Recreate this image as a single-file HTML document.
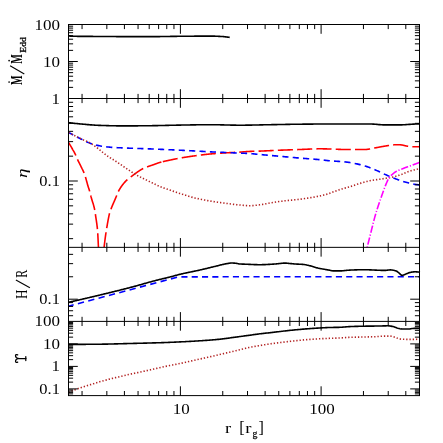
<!DOCTYPE html>
<html><head><meta charset="utf-8"><title>plot</title>
<style>html,body{margin:0;padding:0;background:#fff;width:443px;height:443px;overflow:hidden;font-family:"Liberation Serif",serif}svg{display:block}</style>
</head><body>
<svg width="443" height="443" viewBox="0 0 443 443" font-family="'Liberation Serif', serif" fill="#000">
<defs><clipPath id="c2"><rect x="68.5" y="98.5" width="351.0" height="148.85"/></clipPath></defs>
<rect width="443" height="443" fill="#fff"/>
<path d="M68.50 35.70L69.50 35.90L70.50 36.09L71.50 36.22L72.50 36.26L73.51 36.28L74.51 36.29L75.51 36.31L76.51 36.32L77.51 36.33L78.51 36.34L79.51 36.34L80.51 36.35L81.52 36.35L82.52 36.36L83.52 36.36L84.52 36.37L85.52 36.37L86.52 36.38L87.52 36.38L88.52 36.39L89.53 36.40L90.53 36.40L91.53 36.41L92.53 36.42L93.53 36.43L94.53 36.44L95.53 36.45L96.53 36.46L97.54 36.46L98.54 36.47L99.54 36.48L100.54 36.49L101.54 36.50L102.54 36.51L103.54 36.51L104.54 36.52L105.55 36.53L106.55 36.53L107.55 36.54L108.55 36.54L109.55 36.55L110.55 36.55L111.55 36.56L112.55 36.56L113.56 36.56L114.56 36.57L115.56 36.57L116.56 36.58L117.56 36.58L118.56 36.58L119.56 36.59L120.56 36.59L121.57 36.59L122.57 36.60L123.57 36.60L124.57 36.60L125.57 36.61L126.57 36.61L127.57 36.61L128.57 36.62L129.58 36.62L130.58 36.62L131.58 36.62L132.58 36.63L133.58 36.63L134.58 36.63L135.58 36.63L136.58 36.64L137.59 36.64L138.59 36.64L139.59 36.64L140.59 36.64L141.59 36.64L142.59 36.65L143.59 36.65L144.59 36.65L145.60 36.65L146.60 36.65L147.60 36.65L148.60 36.65L149.60 36.65L150.60 36.65L151.60 36.65L152.60 36.64L153.61 36.64L154.61 36.63L155.61 36.63L156.61 36.62L157.61 36.61L158.61 36.59L159.61 36.58L160.61 36.57L161.62 36.56L162.62 36.54L163.62 36.53L164.62 36.51L165.62 36.50L166.62 36.48L167.62 36.47L168.62 36.45L169.63 36.43L170.63 36.42L171.63 36.40L172.63 36.39L173.63 36.37L174.63 36.36L175.63 36.35L176.63 36.33L177.64 36.32L178.64 36.31L179.64 36.30L180.64 36.29L181.64 36.29L182.64 36.28L183.64 36.27L184.64 36.26L185.65 36.25L186.65 36.24L187.65 36.23L188.65 36.22L189.65 36.21L190.65 36.20L191.65 36.20L192.65 36.19L193.66 36.18L194.66 36.17L195.66 36.16L196.66 36.16L197.66 36.15L198.66 36.14L199.66 36.14L200.66 36.13L201.67 36.12L202.67 36.12L203.67 36.11L204.67 36.11L205.67 36.11L206.67 36.10L207.67 36.10L208.67 36.10L209.68 36.10L210.68 36.10L211.68 36.11L212.68 36.13L213.68 36.15L214.68 36.17L215.68 36.21L216.68 36.24L217.69 36.29L218.69 36.33L219.69 36.38L220.69 36.43L221.69 36.48L222.69 36.54L223.69 36.62L224.69 36.72L225.70 36.84L226.70 36.97L227.70 37.11L228.70 37.25L229.70 37.40" fill="none" stroke="#000" stroke-width="1.6" stroke-linejoin="round" stroke-linecap="butt"/>
<g clip-path="url(#c2)">
<path d="M68.50 122.60L69.50 122.73L70.50 122.85L71.50 122.98L72.51 123.10L73.51 123.22L74.51 123.33L75.51 123.45L76.51 123.56L77.51 123.66L78.51 123.77L79.52 123.87L80.52 123.96L81.52 124.06L82.52 124.15L83.52 124.24L84.52 124.32L85.52 124.41L86.53 124.50L87.53 124.59L88.53 124.67L89.53 124.76L90.53 124.84L91.53 124.92L92.53 124.99L93.54 125.06L94.54 125.13L95.54 125.19L96.54 125.25L97.54 125.30L98.54 125.35L99.54 125.38L100.55 125.42L101.55 125.45L102.55 125.48L103.55 125.51L104.55 125.54L105.55 125.57L106.55 125.60L107.56 125.63L108.56 125.66L109.56 125.68L110.56 125.71L111.56 125.73L112.56 125.75L113.56 125.77L114.57 125.79L115.57 125.81L116.57 125.83L117.57 125.84L118.57 125.86L119.57 125.87L120.57 125.88L121.58 125.89L122.58 125.89L123.58 125.90L124.58 125.90L125.58 125.90L126.58 125.90L127.58 125.90L128.59 125.89L129.59 125.89L130.59 125.89L131.59 125.88L132.59 125.87L133.59 125.87L134.59 125.86L135.60 125.85L136.60 125.84L137.60 125.83L138.60 125.82L139.60 125.82L140.60 125.80L141.60 125.79L142.61 125.78L143.61 125.77L144.61 125.76L145.61 125.75L146.61 125.74L147.61 125.73L148.61 125.72L149.62 125.70L150.62 125.69L151.62 125.68L152.62 125.67L153.62 125.65L154.62 125.63L155.62 125.62L156.63 125.60L157.63 125.58L158.63 125.56L159.63 125.54L160.63 125.52L161.63 125.49L162.63 125.47L163.64 125.45L164.64 125.43L165.64 125.40L166.64 125.38L167.64 125.36L168.64 125.33L169.64 125.31L170.65 125.29L171.65 125.26L172.65 125.24L173.65 125.22L174.65 125.20L175.65 125.18L176.65 125.16L177.66 125.14L178.66 125.12L179.66 125.11L180.66 125.09L181.66 125.07L182.66 125.06L183.66 125.04L184.67 125.02L185.67 125.00L186.67 124.98L187.67 124.97L188.67 124.95L189.67 124.93L190.67 124.91L191.68 124.90L192.68 124.88L193.68 124.86L194.68 124.85L195.68 124.83L196.68 124.81L197.68 124.80L198.69 124.79L199.69 124.77L200.69 124.76L201.69 124.75L202.69 124.74L203.69 124.73L204.69 124.72L205.70 124.71L206.70 124.71L207.70 124.70L208.70 124.70L209.70 124.70L210.70 124.70L211.70 124.70L212.71 124.71L213.71 124.72L214.71 124.73L215.71 124.75L216.71 124.76L217.71 124.78L218.71 124.80L219.72 124.82L220.72 124.85L221.72 124.87L222.72 124.89L223.72 124.92L224.72 124.94L225.72 124.97L226.73 124.99L227.73 125.02L228.73 125.04L229.73 125.06L230.73 125.09L231.73 125.11L232.73 125.13L233.74 125.14L234.74 125.16L235.74 125.17L236.74 125.18L237.74 125.19L238.74 125.20L239.74 125.20L240.75 125.20L241.75 125.20L242.75 125.19L243.75 125.19L244.75 125.18L245.75 125.17L246.75 125.16L247.75 125.14L248.76 125.13L249.76 125.11L250.76 125.09L251.76 125.08L252.76 125.06L253.76 125.04L254.76 125.02L255.77 125.00L256.77 124.97L257.77 124.95L258.77 124.93L259.77 124.91L260.77 124.89L261.77 124.86L262.78 124.84L263.78 124.82L264.78 124.80L265.78 124.78L266.78 124.76L267.78 124.74L268.78 124.72L269.79 124.70L270.79 124.69L271.79 124.67L272.79 124.65L273.79 124.63L274.79 124.62L275.79 124.60L276.80 124.58L277.80 124.56L278.80 124.54L279.80 124.52L280.80 124.50L281.80 124.48L282.80 124.46L283.81 124.45L284.81 124.43L285.81 124.41L286.81 124.39L287.81 124.37L288.81 124.36L289.81 124.34L290.82 124.32L291.82 124.31L292.82 124.29L293.82 124.28L294.82 124.26L295.82 124.25L296.82 124.23L297.83 124.22L298.83 124.21L299.83 124.20L300.83 124.19L301.83 124.18L302.83 124.17L303.83 124.16L304.84 124.15L305.84 124.14L306.84 124.13L307.84 124.13L308.84 124.12L309.84 124.11L310.84 124.10L311.85 124.09L312.85 124.08L313.85 124.07L314.85 124.07L315.85 124.06L316.85 124.05L317.85 124.04L318.86 124.04L319.86 124.03L320.86 124.03L321.86 124.02L322.86 124.02L323.86 124.01L324.86 124.01L325.87 124.01L326.87 124.00L327.87 124.00L328.87 124.00L329.87 124.00L330.87 124.00L331.87 124.00L332.88 124.00L333.88 124.00L334.88 124.00L335.88 124.00L336.88 124.00L337.88 124.00L338.88 124.00L339.89 124.00L340.89 124.00L341.89 124.00L342.89 124.00L343.89 124.00L344.89 124.00L345.89 124.00L346.90 124.00L347.90 124.00L348.90 124.00L349.90 124.00L350.90 124.00L351.90 124.00L352.90 124.00L353.91 124.00L354.91 124.00L355.91 124.00L356.91 124.00L357.91 124.00L358.91 124.00L359.91 124.00L360.92 124.00L361.92 124.00L362.92 124.00L363.92 124.00L364.92 124.00L365.92 124.00L366.92 124.00L367.93 124.00L368.93 124.00L369.93 124.00L370.93 124.01L371.93 124.04L372.93 124.09L373.93 124.15L374.94 124.23L375.94 124.31L376.94 124.40L377.94 124.49L378.94 124.58L379.94 124.66L380.94 124.74L381.95 124.80L382.95 124.85L383.95 124.89L384.95 124.90L385.95 124.90L386.95 124.90L387.95 124.90L388.96 124.90L389.96 124.90L390.96 124.90L391.96 124.90L392.96 124.90L393.96 124.90L394.96 124.90L395.97 124.90L396.97 124.90L397.97 124.90L398.97 124.90L399.97 124.90L400.97 124.89L401.97 124.86L402.98 124.82L403.98 124.77L404.98 124.70L405.98 124.63L406.98 124.56L407.98 124.48L408.98 124.40L409.99 124.33L410.99 124.26L411.99 124.20L412.99 124.15L413.99 124.10L414.99 124.04L415.99 123.99L417.00 123.94L418.00 123.90L419.00 123.85L420.00 123.80" fill="none" stroke="#000" stroke-width="1.6" stroke-linejoin="round" stroke-linecap="butt"/>
<path d="M68.50 142.30L68.65 142.55L68.80 142.80L68.95 143.05L69.10 143.30L69.25 143.56L69.40 143.81L69.55 144.06L69.70 144.32L69.85 144.58L70.00 144.83L70.16 145.09L70.31 145.35L70.46 145.61L70.61 145.87L70.76 146.13L70.91 146.39L71.06 146.65L71.21 146.91L71.36 147.17L71.51 147.44L71.66 147.70L71.81 147.97L71.96 148.23L72.11 148.50L72.26 148.76L72.41 149.02L72.56 149.29L72.71 149.55L72.86 149.81L73.02 150.07L73.17 150.33L73.32 150.59L73.47 150.85L73.62 151.11L73.77 151.38L73.92 151.65L74.07 151.92L74.22 152.19L74.37 152.47L74.52 152.75L74.67 153.04L74.82 153.33L74.97 153.62L75.12 153.92L75.27 154.23L75.42 154.54L75.57 154.86L75.72 155.19L75.87 155.55L76.03 155.91L76.18 156.29L76.33 156.67L76.48 157.05L76.63 157.43L76.78 157.80L76.93 158.17L77.08 158.52L77.23 158.86L77.38 159.20L77.53 159.52L77.68 159.84L77.83 160.16L77.98 160.47L78.13 160.78L78.28 161.08L78.43 161.38L78.58 161.68L78.73 161.98L78.88 162.28L79.03 162.57L79.19 162.87L79.34 163.16L79.49 163.46L79.64 163.76L79.79 164.06L79.94 164.36L80.09 164.66L80.24 164.96L80.39 165.27L80.54 165.58L80.69 165.89L80.84 166.20L80.99 166.50L81.14 166.80L81.29 167.10L81.44 167.40L81.59 167.69L81.74 167.99L81.89 168.29L82.05 168.59L82.20 168.89L82.35 169.19L82.50 169.49L82.65 169.80L82.80 170.12L82.95 170.43L83.10 170.76L83.25 171.09L83.40 171.42L83.55 171.76L83.70 172.12L83.85 172.47L84.00 172.84L84.15 173.22L84.30 173.61L84.45 174.01L84.60 174.43L84.75 174.86L84.90 175.32L85.05 175.78L85.21 176.26L85.36 176.75L85.51 177.25L85.66 177.76L85.81 178.28L85.96 178.80L86.11 179.34L86.26 179.87L86.41 180.41L86.56 180.95L86.71 181.49L86.86 182.03L87.01 182.57L87.16 183.11L87.31 183.64L87.46 184.17L87.61 184.70L87.76 185.21L87.91 185.72L88.06 186.21L88.22 186.70L88.37 187.18L88.52 187.65L88.67 188.12L88.82 188.59L88.97 189.06L89.12 189.53L89.27 190.01L89.42 190.50L89.57 190.99L89.72 191.51L89.87 192.03L90.02 192.58L90.17 193.16L90.32 193.77L90.47 194.41L90.62 195.05L90.77 195.68L90.92 196.30L91.07 196.89L91.23 197.46L91.38 198.00L91.53 198.53L91.68 199.04L91.83 199.54L91.98 200.03L92.13 200.51L92.28 200.99L92.43 201.46L92.58 201.93L92.73 202.40L92.88 202.88L93.03 203.36L93.18 203.85L93.33 204.35L93.48 204.87L93.63 205.40L93.78 205.95L93.93 206.52L94.08 207.11L94.24 207.72L94.39 208.37L94.54 209.04L94.69 209.74L94.84 210.48L94.99 211.29L95.14 212.26L95.29 213.35L95.44 214.46L95.59 215.54L95.74 216.56L95.89 217.56L96.04 218.54L96.19 219.51L96.34 220.50L96.49 221.51L96.64 222.56L96.79 223.67L96.94 224.84L97.09 226.09L97.25 227.45L97.40 228.91L97.55 230.50L97.70 232.46L97.85 235.04L98.00 237.97L98.15 241.13L98.30 244.29L98.45 247.24L98.60 250.00" fill="none" stroke="#ff0000" stroke-width="1.6" stroke-linejoin="round" stroke-linecap="butt" stroke-dasharray="15.1 4.2" stroke-dashoffset="0"/>
<path d="M103.80 250.00L104.05 247.64L104.30 245.44L104.55 243.32L104.80 241.27L105.05 239.29L105.30 237.38L105.55 235.55L105.80 233.80L106.05 232.12L106.30 230.51L106.55 228.97L106.80 227.51L107.05 226.05L107.30 224.61L107.55 223.18L107.80 221.77L108.05 220.39L108.30 219.06L108.55 217.78L108.80 216.55L109.05 215.40L109.30 214.32L109.55 213.34L109.80 212.44L110.05 211.64L110.30 210.91L110.55 210.23L110.80 209.57L111.05 208.92L111.30 208.26L111.55 207.62L111.81 207.00L112.06 206.38L112.31 205.78L112.56 205.18L112.81 204.59L113.06 204.01L113.31 203.44L113.56 202.87L113.81 202.30L114.06 201.73L114.31 201.16L114.56 200.59L114.81 200.02L115.06 199.44L115.31 198.85L115.56 198.26L115.81 197.66L116.06 197.05L116.31 196.43L116.56 195.79L116.81 195.09L117.06 194.37L117.31 193.67L117.56 193.03L117.81 192.48L118.06 192.00L118.31 191.52L118.56 191.06L118.81 190.61L119.06 190.16L119.31 189.73L119.56 189.30L119.81 188.88L120.06 188.48L120.31 188.08L120.56 187.69L120.81 187.30L121.06 186.93L121.31 186.56L121.56 186.20L121.81 185.85L122.06 185.50L122.31 185.17L122.56 184.84L122.81 184.51L123.06 184.19L123.31 183.88L123.56 183.58L123.81 183.28L124.06 182.99L124.31 182.70L124.56 182.41L124.81 182.14L125.06 181.86L125.31 181.60L125.56 181.33L125.81 181.07L126.06 180.82L126.31 180.57L126.56 180.32L126.81 180.08L127.06 179.84L127.31 179.61L127.57 179.40L127.82 179.20L128.07 179.00L128.32 178.81L128.57 178.63L128.82 178.44L129.07 178.25L129.32 178.06L129.57 177.86L129.82 177.67L130.07 177.48L130.32 177.29L130.57 177.09L130.82 176.90L131.07 176.71L131.32 176.52L131.57 176.33L131.82 176.14L132.07 175.95L132.32 175.75L132.57 175.56L132.82 175.38L133.07 175.19L133.32 175.00L133.57 174.81L133.82 174.62L134.07 174.44L134.32 174.25L134.57 174.07L134.82 173.88L135.07 173.70L135.32 173.52L135.57 173.33L135.82 173.15L136.07 172.97L136.32 172.80L136.57 172.62L136.82 172.44L137.07 172.27L137.32 172.09L137.57 171.92L137.82 171.75L138.07 171.58L138.32 171.41L138.57 171.25L138.82 171.08L139.07 170.92L139.32 170.76L139.57 170.60L139.82 170.44L140.07 170.28L140.32 170.12L140.57 169.97L140.82 169.82L141.07 169.66L141.32 169.51L141.57 169.37L141.82 169.22L142.07 169.08L142.32 168.94L142.57 168.81L142.82 168.68L143.07 168.56L143.32 168.44L143.58 168.33L143.83 168.21L144.08 168.10L144.33 168.00L144.58 167.89L144.83 167.78L145.08 167.68L145.33 167.58L145.58 167.48L145.83 167.38L146.08 167.28L146.33 167.18L146.58 167.09L146.83 166.99L147.08 166.90L147.33 166.81L147.58 166.72L147.83 166.63L148.08 166.54L148.33 166.45L148.58 166.36L148.83 166.28L149.08 166.19L149.33 166.10L149.58 166.02L149.83 165.93L150.08 165.85L150.33 165.76L150.58 165.68L150.83 165.59L151.08 165.51L151.33 165.42L151.58 165.34L151.83 165.25L152.08 165.17L152.33 165.08L152.58 165.00L152.83 164.91L153.08 164.82L153.33 164.74L153.58 164.65L153.83 164.56L154.08 164.47L154.33 164.38L154.58 164.29L154.83 164.20L155.08 164.10L155.33 164.01L155.58 163.92L155.83 163.82L156.08 163.73L156.33 163.64L156.58 163.55L156.83 163.45L157.08 163.36L157.33 163.27L157.58 163.18L157.83 163.09L158.08 163.01L158.33 162.92L158.58 162.84L158.83 162.76L159.08 162.67L159.34 162.60L159.59 162.52L159.84 162.45L160.09 162.38L160.34 162.31L160.59 162.24L160.84 162.17L161.09 162.10L161.34 162.04L161.59 161.97L161.84 161.91L162.09 161.85L162.34 161.78L162.59 161.72L162.84 161.66" fill="none" stroke="#ff0000" stroke-width="1.6" stroke-linejoin="round" stroke-linecap="butt" stroke-dasharray="15.1 4.2" stroke-dashoffset="-2.79"/>
<path d="M162.84 161.66L163.09 161.60L163.34 161.54L163.59 161.48L163.84 161.43L164.09 161.37L164.34 161.31L164.59 161.26L164.84 161.20L165.09 161.14L165.34 161.09L165.59 161.04L165.84 160.98L166.09 160.93L166.34 160.87L166.59 160.82L166.84 160.77L167.09 160.71L167.34 160.66L167.59 160.61L167.84 160.56L168.09 160.50L168.34 160.45L168.59 160.40L168.84 160.35L169.09 160.29L169.34 160.24L169.59 160.19L169.84 160.13L170.09 160.08L170.34 160.03L170.59 159.97L170.84 159.92L171.09 159.87L171.34 159.81L171.59 159.76L171.84 159.71L172.09 159.65L172.34 159.60L172.59 159.55L172.84 159.50L173.09 159.44L173.34 159.39L173.59 159.34L173.84 159.29L174.09 159.24L174.34 159.19L174.59 159.13L174.84 159.08L175.10 159.03L175.35 158.98L175.60 158.93L175.85 158.88L176.10 158.83L176.35 158.78L176.60 158.73L176.85 158.68L177.10 158.64L177.35 158.59L177.60 158.54L177.85 158.49L178.10 158.45L178.35 158.40L178.60 158.35L178.85 158.31L179.10 158.26L179.35 158.22L179.60 158.17L179.85 158.13L180.10 158.08L180.35 158.04L180.60 158.00L180.85 157.95L181.10 157.91L181.35 157.87L181.60 157.82L181.85 157.78L182.10 157.74L182.35 157.70L182.60 157.66L182.85 157.61L183.10 157.57L183.35 157.53L183.60 157.49L183.85 157.45L184.10 157.41L184.35 157.37L184.60 157.33L184.85 157.29L185.10 157.25L185.35 157.21L185.60 157.17L185.85 157.13L186.10 157.09L186.35 157.05L186.60 157.01L186.85 156.97L187.10 156.93L187.35 156.90L187.60 156.86L187.85 156.82L188.10 156.78L188.35 156.74L188.60 156.71L188.85 156.67L189.10 156.63L189.35 156.60L189.60 156.56L189.85 156.52L190.10 156.49L190.35 156.45L190.60 156.41L190.86 156.38L191.11 156.34L191.36 156.31L191.61 156.27L191.86 156.23L192.11 156.20L192.36 156.16L192.61 156.13L192.86 156.09L193.11 156.06L193.36 156.02L193.61 155.99L193.86 155.96L194.11 155.92L194.36 155.89L194.61 155.85L194.86 155.82L195.11 155.79L195.36 155.75L195.61 155.72L195.86 155.68L196.11 155.65L196.36 155.62L196.61 155.58L196.86 155.55L197.11 155.52L197.36 155.48L197.61 155.45L197.86 155.42L198.11 155.38L198.36 155.35L198.61 155.32L198.86 155.28L199.11 155.25L199.36 155.22L199.61 155.19L199.86 155.15L200.11 155.12L200.36 155.09L200.61 155.06L200.86 155.02L201.11 154.99L201.36 154.96L201.61 154.93L201.86 154.90L202.11 154.87L202.36 154.84L202.61 154.80L202.86 154.77L203.11 154.74L203.36 154.71L203.61 154.68L203.86 154.65L204.11 154.62L204.36 154.59L204.61 154.56L204.86 154.54L205.11 154.51L205.36 154.48L205.61 154.45L205.86 154.42L206.11 154.39L206.36 154.37L206.62 154.34L206.87 154.31L207.12 154.29L207.37 154.26L207.62 154.23L207.87 154.21L208.12 154.18L208.37 154.16L208.62 154.13L208.87 154.11L209.12 154.08L209.37 154.06L209.62 154.04L209.87 154.01L210.12 153.99L210.37 153.97L210.62 153.94L210.87 153.92L211.12 153.90L211.37 153.88L211.62 153.86L211.87 153.84L212.12 153.81L212.37 153.79L212.62 153.77L212.87 153.75L213.12 153.73L213.37 153.71L213.62 153.69L213.87 153.67L214.12 153.65L214.37 153.63L214.62 153.61L214.87 153.59L215.12 153.57L215.37 153.55L215.62 153.53L215.87 153.51L216.12 153.50L216.37 153.48L216.62 153.46L216.87 153.44L217.12 153.42L217.37 153.40L217.62 153.39L217.87 153.37L218.12 153.35L218.37 153.33L218.62 153.32L218.87 153.30L219.12 153.28L219.37 153.26L219.62 153.25L219.87 153.23L220.12 153.21L220.37 153.20L220.62 153.18L220.87 153.16L221.12 153.15L221.37 153.13L221.62 153.11L221.87 153.10L222.12 153.08L222.38 153.07L222.63 153.05L222.88 153.03L223.13 153.02L223.38 153.00L223.63 152.99L223.88 152.97L224.13 152.95L224.38 152.94L224.63 152.92L224.88 152.91L225.13 152.89L225.38 152.88L225.63 152.86L225.88 152.85L226.13 152.83L226.38 152.82L226.63 152.80L226.88 152.79L227.13 152.78L227.38 152.76L227.63 152.75L227.88 152.73L228.13 152.72L228.38 152.71L228.63 152.69L228.88 152.68L229.13 152.67L229.38 152.65L229.63 152.64L229.88 152.63L230.13 152.62L230.38 152.60L230.63 152.59L230.88 152.58L231.13 152.57L231.38 152.55L231.63 152.54L231.88 152.53L232.13 152.52L232.38 152.50L232.63 152.49L232.88 152.48L233.13 152.47L233.38 152.46L233.63 152.44L233.88 152.43L234.13 152.42L234.38 152.41L234.63 152.39L234.88 152.38L235.13 152.37L235.38 152.36L235.63 152.34L235.88 152.33L236.13 152.32L236.38 152.30L236.63 152.29L236.88 152.28L237.13 152.26L237.38 152.25L237.63 152.24L237.88 152.22L238.13 152.21L238.39 152.19L238.64 152.18L238.89 152.17L239.14 152.15L239.39 152.14L239.64 152.12L239.89 152.11L240.14 152.09L240.39 152.08L240.64 152.06L240.89 152.04L241.14 152.03L241.39 152.01L241.64 151.99L241.89 151.97L242.14 151.95L242.39 151.93L242.64 151.91L242.89 151.89L243.14 151.87L243.39 151.85L243.64 151.83L243.89 151.81L244.14 151.79L244.39 151.77L244.64 151.75L244.89 151.73L245.14 151.72L245.39 151.70L245.64 151.68L245.89 151.66L246.14 151.64L246.39 151.62L246.64 151.60L246.89 151.58L247.14 151.56L247.39 151.55L247.64 151.53L247.89 151.51L248.14 151.50L248.39 151.48L248.64 151.47L248.89 151.45L249.14 151.44L249.39 151.43L249.64 151.42L249.89 151.40L250.14 151.39L250.39 151.38L250.64 151.37L250.89 151.36L251.14 151.36L251.39 151.35L251.64 151.34L251.89 151.33L252.14 151.32L252.39 151.31L252.64 151.31L252.89 151.30L253.14 151.29L253.39 151.28L253.64 151.28L253.89 151.27L254.15 151.26L254.40 151.26L254.65 151.25L254.90 151.24L255.15 151.24L255.40 151.23L255.65 151.23L255.90 151.22L256.15 151.21L256.40 151.21L256.65 151.20L256.90 151.19L257.15 151.19L257.40 151.18L257.65 151.17L257.90 151.17L258.15 151.16L258.40 151.15L258.65 151.14L258.90 151.14L259.15 151.13L259.40 151.12L259.65 151.11L259.90 151.10L260.15 151.09L260.40 151.09L260.65 151.08L260.90 151.07L261.15 151.06L261.40 151.05L261.65 151.04L261.90 151.03L262.15 151.02L262.40 151.01L262.65 151.00L262.90 150.99L263.15 150.98L263.40 150.97L263.65 150.96L263.90 150.95L264.15 150.93L264.40 150.92L264.65 150.91L264.90 150.90L265.15 150.89L265.40 150.88L265.65 150.87L265.90 150.86L266.15 150.84L266.40 150.83L266.65 150.82L266.90 150.81L267.15 150.80L267.40 150.79L267.65 150.77L267.90 150.76L268.15 150.75L268.40 150.74L268.65 150.73L268.90 150.71L269.15 150.70L269.40 150.69L269.65 150.68L269.91 150.67L270.16 150.65L270.41 150.64L270.66 150.63L270.91 150.62L271.16 150.60L271.41 150.59L271.66 150.58L271.91 150.57L272.16 150.55L272.41 150.54L272.66 150.53L272.91 150.52L273.16 150.51L273.41 150.49L273.66 150.48L273.91 150.47L274.16 150.46L274.41 150.45L274.66 150.43L274.91 150.42L275.16 150.41L275.41 150.40L275.66 150.39L275.91 150.38L276.16 150.36L276.41 150.35L276.66 150.34L276.91 150.33L277.16 150.32L277.41 150.31L277.66 150.30L277.91 150.29L278.16 150.28L278.41 150.27L278.66 150.25L278.91 150.24L279.16 150.23L279.41 150.22L279.66 150.21L279.91 150.20L280.16 150.19L280.41 150.18L280.66 150.17L280.91 150.16L281.16 150.15L281.41 150.15L281.66 150.14L281.91 150.13L282.16 150.12L282.41 150.11L282.66 150.10L282.91 150.09L283.16 150.08L283.41 150.07L283.66 150.06L283.91 150.05L284.16 150.04L284.41 150.03L284.66 150.02L284.91 150.02L285.16 150.01L285.41 150.00L285.67 149.99L285.92 149.98L286.17 149.97L286.42 149.96L286.67 149.95L286.92 149.94L287.17 149.94L287.42 149.93L287.67 149.92L287.92 149.91L288.17 149.90L288.42 149.89L288.67 149.88L288.92 149.88L289.17 149.87L289.42 149.86L289.67 149.85L289.92 149.84L290.17 149.83L290.42 149.82L290.67 149.82L290.92 149.81L291.17 149.80L291.42 149.79L291.67 149.78L291.92 149.77L292.17 149.77L292.42 149.76L292.67 149.75L292.92 149.74L293.17 149.73L293.42 149.72L293.67 149.72L293.92 149.71L294.17 149.70L294.42 149.69L294.67 149.68L294.92 149.67L295.17 149.67L295.42 149.66L295.67 149.65L295.92 149.64L296.17 149.63L296.42 149.62L296.67 149.61L296.92 149.61L297.17 149.60L297.42 149.59L297.67 149.58L297.92 149.57L298.17 149.56L298.42 149.55L298.67 149.55L298.92 149.54L299.17 149.53L299.42 149.52L299.67 149.51L299.92 149.50L300.17 149.49L300.42 149.48L300.67 149.48L300.92 149.47L301.17 149.46L301.43 149.45L301.68 149.44L301.93 149.43L302.18 149.42L302.43 149.41L302.68 149.40L302.93 149.38L303.18 149.37L303.43 149.36L303.68 149.35L303.93 149.34L304.18 149.33L304.43 149.32L304.68 149.31L304.93 149.30L305.18 149.28L305.43 149.27L305.68 149.26L305.93 149.25L306.18 149.24L306.43 149.23L306.68 149.21L306.93 149.20L307.18 149.19L307.43 149.18L307.68 149.17L307.93 149.16L308.18 149.14L308.43 149.13L308.68 149.12L308.93 149.11L309.18 149.10L309.43 149.09L309.68 149.08L309.93 149.07L310.18 149.05L310.43 149.04L310.68 149.03L310.93 149.02L311.18 149.01L311.43 149.00L311.68 148.99L311.93 148.98L312.18 148.97L312.43 148.96L312.68 148.95L312.93 148.94L313.18 148.93L313.43 148.93L313.68 148.92L313.93 148.91L314.18 148.90L314.43 148.89L314.68 148.89L314.93 148.88L315.18 148.87L315.43 148.86L315.68 148.86L315.93 148.85L316.18 148.85L316.43 148.84L316.68 148.84L316.93 148.83L317.18 148.83L317.44 148.82L317.69 148.82L317.94 148.81L318.19 148.81L318.44 148.81L318.69 148.81L318.94 148.80L319.19 148.80L319.44 148.80L319.69 148.80L319.94 148.80L320.19 148.80L320.44 148.80L320.69 148.80L320.94 148.80L321.19 148.80L321.44 148.81L321.69 148.81L321.94 148.81L322.19 148.82L322.44 148.82L322.69 148.82L322.94 148.83L323.19 148.83L323.44 148.84L323.69 148.84L323.94 148.85L324.19 148.85L324.44 148.86L324.69 148.86L324.94 148.87L325.19 148.87L325.44 148.88L325.69 148.89L325.94 148.89L326.19 148.90L326.44 148.91L326.69 148.91L326.94 148.92L327.19 148.93L327.44 148.93L327.69 148.94L327.94 148.95L328.19 148.95L328.44 148.96L328.69 148.97L328.94 148.97L329.19 148.98L329.44 148.99L329.69 148.99L329.94 149.00L330.19 149.00L330.44 149.01L330.69 149.02L330.94 149.03L331.19 149.03L331.44 149.04L331.69 149.05L331.94 149.06L332.19 149.07L332.44 149.08L332.69 149.09L332.94 149.10L333.20 149.11L333.45 149.12L333.70 149.13L333.95 149.14L334.20 149.15L334.45 149.16L334.70 149.17L334.95 149.18L335.20 149.19L335.45 149.20L335.70 149.22L335.95 149.23L336.20 149.24L336.45 149.25L336.70 149.26L336.95 149.27L337.20 149.28L337.45 149.29L337.70 149.30L337.95 149.32L338.20 149.33L338.45 149.34L338.70 149.35L338.95 149.36L339.20 149.37L339.45 149.38L339.70 149.39L339.95 149.40L340.20 149.40L340.45 149.41L340.70 149.42L340.95 149.43L341.20 149.44L341.45 149.45L341.70 149.45L341.95 149.46L342.20 149.46L342.45 149.47L342.70 149.48L342.95 149.48L343.20 149.48L343.45 149.49L343.70 149.49L343.95 149.49L344.20 149.50L344.45 149.50L344.70 149.50L344.95 149.50L345.20 149.50L345.45 149.50L345.70 149.50L345.95 149.50L346.20 149.50L346.45 149.50L346.70 149.50L346.95 149.50L347.20 149.50L347.45 149.50L347.70 149.50L347.95 149.50L348.20 149.50L348.45 149.50L348.70 149.50L348.96 149.50L349.21 149.50L349.46 149.50L349.71 149.50L349.96 149.50L350.21 149.50L350.46 149.50L350.71 149.50L350.96 149.50L351.21 149.50L351.46 149.50L351.71 149.50L351.96 149.50L352.21 149.50L352.46 149.50L352.71 149.50L352.96 149.50L353.21 149.50L353.46 149.50L353.71 149.50L353.96 149.50L354.21 149.50L354.46 149.50L354.71 149.50L354.96 149.50L355.21 149.50L355.46 149.50L355.71 149.50L355.96 149.50L356.21 149.50L356.46 149.50L356.71 149.50L356.96 149.50L357.21 149.50L357.46 149.50L357.71 149.50L357.96 149.50L358.21 149.50L358.46 149.50L358.71 149.50L358.96 149.50L359.21 149.50L359.46 149.50L359.71 149.50L359.96 149.50L360.21 149.50L360.46 149.50L360.71 149.50L360.96 149.50L361.21 149.50L361.46 149.50L361.71 149.50L361.96 149.50L362.21 149.50L362.46 149.50L362.71 149.50L362.96 149.50L363.21 149.50L363.46 149.50L363.71 149.50L363.96 149.50L364.21 149.50L364.46 149.50L364.72 149.50L364.97 149.50L365.22 149.50L365.47 149.49L365.72 149.48L365.97 149.47L366.22 149.46L366.47 149.44L366.72 149.42L366.97 149.39L367.22 149.36L367.47 149.33L367.72 149.30L367.97 149.27L368.22 149.23L368.47 149.19L368.72 149.15L368.97 149.11L369.22 149.06L369.47 149.01L369.72 148.97L369.97 148.92L370.22 148.87L370.47 148.82L370.72 148.77L370.97 148.71L371.22 148.66L371.47 148.61L371.72 148.55L371.97 148.50L372.22 148.45L372.47 148.39L372.72 148.34L372.97 148.29L373.22 148.24L373.47 148.19L373.72 148.14L373.97 148.09L374.22 148.04L374.47 147.99L374.72 147.95L374.97 147.90L375.22 147.86L375.47 147.82L375.72 147.78L375.97 147.73L376.22 147.69L376.47 147.64L376.72 147.60L376.97 147.55L377.22 147.50L377.47 147.46L377.72 147.41L377.97 147.36L378.22 147.31L378.47 147.27L378.72 147.22L378.97 147.17L379.22 147.12L379.47 147.08L379.72 147.03L379.97 146.98L380.22 146.93L380.48 146.89L380.73 146.84L380.98 146.79L381.23 146.75L381.48 146.70L381.73 146.65L381.98 146.61L382.23 146.56L382.48 146.52L382.73 146.47L382.98 146.43L383.23 146.39L383.48 146.34L383.73 146.30L383.98 146.26L384.23 146.22L384.48 146.18L384.73 146.14L384.98 146.10L385.23 146.07L385.48 146.03L385.73 145.99L385.98 145.94L386.23 145.90L386.48 145.86L386.73 145.82L386.98 145.78L387.23 145.73L387.48 145.69L387.73 145.64L387.98 145.60L388.23 145.56L388.48 145.51L388.73 145.47L388.98 145.43L389.23 145.39L389.48 145.34L389.73 145.30L389.98 145.26L390.23 145.23L390.48 145.19L390.73 145.15L390.98 145.12L391.23 145.08L391.48 145.05L391.73 145.02L391.98 144.99L392.23 144.96L392.48 144.93L392.73 144.91L392.98 144.89L393.23 144.87L393.48 144.85L393.73 144.84L393.98 144.82L394.23 144.81L394.48 144.81L394.73 144.80L394.98 144.80L395.23 144.80L395.48 144.80L395.73 144.80L395.98 144.80L396.23 144.80L396.49 144.80L396.74 144.80L396.99 144.80L397.24 144.80L397.49 144.80L397.74 144.80L397.99 144.80L398.24 144.80L398.49 144.80L398.74 144.80L398.99 144.80L399.24 144.80L399.49 144.80L399.74 144.80L399.99 144.80L400.24 144.80L400.49 144.81L400.74 144.83L400.99 144.85L401.24 144.88L401.49 144.92L401.74 144.95L401.99 145.00L402.24 145.04L402.49 145.09L402.74 145.15L402.99 145.20L403.24 145.26L403.49 145.32L403.74 145.38L403.99 145.45L404.24 145.51L404.49 145.57L404.74 145.63L404.99 145.69L405.24 145.75L405.49 145.81L405.74 145.87L405.99 145.92L406.24 145.97L406.49 146.02L406.74 146.06L406.99 146.10L407.24 146.14L407.49 146.17L407.74 146.21L407.99 146.25L408.24 146.29L408.49 146.33L408.74 146.37L408.99 146.41L409.24 146.45L409.49 146.48L409.74 146.52L409.99 146.56L410.24 146.59L410.49 146.62L410.74 146.65L410.99 146.68L411.24 146.71L411.49 146.73L411.74 146.75L411.99 146.77L412.25 146.78L412.50 146.79L412.75 146.80L413.00 146.80L413.25 146.80L413.50 146.80L413.75 146.80L414.00 146.80L414.25 146.80L414.50 146.80L414.75 146.80L415.00 146.80L415.25 146.79L415.50 146.79L415.75 146.79L416.00 146.78L416.25 146.78L416.50 146.78L416.75 146.77L417.00 146.76L417.25 146.76L417.50 146.75L417.75 146.74L418.00 146.73L418.25 146.72L418.50 146.70L418.75 146.69L419.00 146.67L419.25 146.66L419.50 146.64L419.75 146.62L420.00 146.60" fill="none" stroke="#ff0000" stroke-width="1.6" stroke-linejoin="round" stroke-linecap="butt" stroke-dasharray="15.1 4.2" stroke-dashoffset="0"/>
<path d="M68.50 132.40L69.50 132.96L70.50 133.50L71.50 134.05L72.51 134.59L73.51 135.12L74.51 135.64L75.51 136.16L76.51 136.68L77.51 137.18L78.51 137.68L79.52 138.18L80.52 138.67L81.52 139.17L82.52 139.66L83.52 140.16L84.52 140.68L85.52 141.19L86.53 141.69L87.53 142.17L88.53 142.62L89.53 143.03L90.53 143.39L91.53 143.73L92.53 144.06L93.54 144.36L94.54 144.65L95.54 144.92L96.54 145.17L97.54 145.40L98.54 145.61L99.54 145.81L100.55 145.99L101.55 146.17L102.55 146.33L103.55 146.48L104.55 146.62L105.55 146.75L106.55 146.86L107.56 146.97L108.56 147.07L109.56 147.16L110.56 147.25L111.56 147.33L112.56 147.41L113.56 147.47L114.57 147.53L115.57 147.59L116.57 147.64L117.57 147.69L118.57 147.74L119.57 147.78L120.57 147.82L121.58 147.86L122.58 147.90L123.58 147.94L124.58 147.98L125.58 148.02L126.58 148.06L127.58 148.10L128.59 148.14L129.59 148.18L130.59 148.21L131.59 148.25L132.59 148.29L133.59 148.32L134.59 148.36L135.60 148.39L136.60 148.42L137.60 148.46L138.60 148.49L139.60 148.53L140.60 148.56L141.60 148.59L142.61 148.63L143.61 148.66L144.61 148.70L145.61 148.74L146.61 148.77L147.61 148.81L148.61 148.85L149.62 148.88L150.62 148.92L151.62 148.96L152.62 149.00L153.62 149.04L154.62 149.08L155.62 149.12L156.63 149.17L157.63 149.21L158.63 149.25L159.63 149.29L160.63 149.33L161.63 149.37L162.63 149.42L163.64 149.46L164.64 149.50L165.64 149.55L166.64 149.59L167.64 149.63L168.64 149.68L169.64 149.72L170.65 149.77L171.65 149.81L172.65 149.86L173.65 149.90L174.65 149.95L175.65 150.00L176.65 150.04L177.66 150.09L178.66 150.14L179.66 150.18L180.66 150.23L181.66 150.28L182.66 150.33L183.66 150.38L184.67 150.43L185.67 150.49L186.67 150.54L187.67 150.59L188.67 150.65L189.67 150.70L190.67 150.76L191.68 150.81L192.68 150.87L193.68 150.92L194.68 150.98L195.68 151.04L196.68 151.09L197.68 151.15L198.69 151.20L199.69 151.26L200.69 151.32L201.69 151.37L202.69 151.42L203.69 151.48L204.69 151.53L205.70 151.58L206.70 151.64L207.70 151.69L208.70 151.74L209.70 151.79L210.70 151.83L211.70 151.88L212.71 151.93L213.71 151.97L214.71 152.02L215.71 152.06L216.71 152.11L217.71 152.15L218.71 152.20L219.72 152.24L220.72 152.28L221.72 152.32L222.72 152.37L223.72 152.41L224.72 152.45L225.72 152.50L226.73 152.54L227.73 152.58L228.73 152.62L229.73 152.67L230.73 152.71L231.73 152.75L232.73 152.80L233.74 152.84L234.74 152.89L235.74 152.93L236.74 152.98L237.74 153.02L238.74 153.06L239.74 153.10L240.75 153.14L241.75 153.19L242.75 153.23L243.75 153.27L244.75 153.32L245.75 153.37L246.75 153.42L247.75 153.47L248.76 153.52L249.76 153.58L250.76 153.65L251.76 153.73L252.76 153.81L253.76 153.90L254.76 153.99L255.77 154.09L256.77 154.19L257.77 154.29L258.77 154.39L259.77 154.48L260.77 154.57L261.77 154.66L262.78 154.75L263.78 154.84L264.78 154.93L265.78 155.02L266.78 155.11L267.78 155.20L268.78 155.29L269.79 155.38L270.79 155.47L271.79 155.56L272.79 155.65L273.79 155.74L274.79 155.83L275.79 155.92L276.80 156.01L277.80 156.10L278.80 156.19L279.80 156.28L280.80 156.37L281.80 156.46L282.80 156.55L283.81 156.65L284.81 156.74L285.81 156.83L286.81 156.92L287.81 157.01L288.81 157.10L289.81 157.20L290.82 157.29L291.82 157.38L292.82 157.47L293.82 157.56L294.82 157.65L295.82 157.74L296.82 157.83L297.83 157.91L298.83 158.00L299.83 158.09L300.83 158.17L301.83 158.25L302.83 158.33L303.83 158.41L304.84 158.49L305.84 158.56L306.84 158.64L307.84 158.71L308.84 158.79L309.84 158.86L310.84 158.94L311.85 159.02L312.85 159.09L313.85 159.17L314.85 159.25L315.85 159.33L316.85 159.42L317.85 159.50L318.86 159.59L319.86 159.69L320.86 159.78L321.86 159.89L322.86 160.00L323.86 160.12L324.86 160.24L325.87 160.36L326.87 160.48L327.87 160.59L328.87 160.69L329.87 160.79L330.87 160.87L331.87 160.95L332.88 161.03L333.88 161.10L334.88 161.16L335.88 161.22L336.88 161.29L337.88 161.35L338.88 161.41L339.89 161.48L340.89 161.55L341.89 161.62L342.89 161.70L343.89 161.79L344.89 161.89L345.89 162.00L346.90 162.12L347.90 162.26L348.90 162.41L349.90 162.57L350.90 162.74L351.90 162.92L352.90 163.10L353.91 163.29L354.91 163.48L355.91 163.68L356.91 163.89L357.91 164.12L358.91 164.35L359.91 164.60L360.92 164.85L361.92 165.12L362.92 165.39L363.92 165.68L364.92 165.98L365.92 166.29L366.92 166.62L367.93 166.98L368.93 167.34L369.93 167.73L370.93 168.12L371.93 168.53L372.93 168.94L373.93 169.36L374.94 169.77L375.94 170.20L376.94 170.64L377.94 171.10L378.94 171.57L379.94 172.04L380.94 172.52L381.95 173.00L382.95 173.47L383.95 173.93L384.95 174.38L385.95 174.82L386.95 175.26L387.95 175.70L388.96 176.13L389.96 176.56L390.96 176.98L391.96 177.40L392.96 177.81L393.96 178.20L394.96 178.59L395.97 178.96L396.97 179.33L397.97 179.70L398.97 180.05L399.97 180.40L400.97 180.74L401.97 181.07L402.98 181.39L403.98 181.70L404.98 181.99L405.98 182.28L406.98 182.56L407.98 182.84L408.98 183.10L409.99 183.35L410.99 183.59L411.99 183.80L412.99 184.00L413.99 184.18L414.99 184.34L415.99 184.50L417.00 184.65L418.00 184.78L419.00 184.90L420.00 185.00" fill="none" stroke="#0000ff" stroke-width="1.6" stroke-linejoin="round" stroke-linecap="butt" stroke-dasharray="6.15 4.23" stroke-dashoffset="-9.575"/>
<path d="M68.50 132.30L69.50 132.86L70.50 133.40L71.50 133.95L72.51 134.49L73.51 135.02L74.51 135.54L75.51 136.06L76.51 136.58L77.51 137.09L78.51 137.60L79.52 138.10L80.52 138.59L81.52 139.07L82.52 139.54L83.52 139.99L84.52 140.41L85.52 140.83L86.53 141.25L87.53 141.69L88.53 142.15L89.53 142.65L90.53 143.20L91.53 143.80L92.53 144.46L93.54 145.15L94.54 145.87L95.54 146.61L96.54 147.36L97.54 148.11L98.54 148.90L99.54 149.73L100.55 150.57L101.55 151.42L102.55 152.25L103.55 153.05L104.55 153.82L105.55 154.57L106.55 155.31L107.56 156.03L108.56 156.73L109.56 157.41L110.56 158.05L111.56 158.65L112.56 159.24L113.56 159.83L114.57 160.46L115.57 161.10L116.57 161.76L117.57 162.43L118.57 163.11L119.57 163.80L120.57 164.48L121.58 165.17L122.58 165.86L123.58 166.54L124.58 167.22L125.58 167.89L126.58 168.57L127.58 169.26L128.59 169.95L129.59 170.64L130.59 171.32L131.59 172.00L132.59 172.65L133.59 173.29L134.59 173.90L135.60 174.49L136.60 175.05L137.60 175.60L138.60 176.13L139.60 176.65L140.60 177.16L141.60 177.66L142.61 178.16L143.61 178.66L144.61 179.15L145.61 179.66L146.61 180.15L147.61 180.64L148.61 181.13L149.62 181.61L150.62 182.10L151.62 182.59L152.62 183.08L153.62 183.57L154.62 184.06L155.62 184.54L156.63 185.01L157.63 185.48L158.63 185.92L159.63 186.35L160.63 186.75L161.63 187.14L162.63 187.52L163.64 187.89L164.64 188.24L165.64 188.60L166.64 188.94L167.64 189.29L168.64 189.63L169.64 189.98L170.65 190.33L171.65 190.68L172.65 191.02L173.65 191.37L174.65 191.72L175.65 192.06L176.65 192.40L177.66 192.73L178.66 193.06L179.66 193.39L180.66 193.71L181.66 194.03L182.66 194.36L183.66 194.68L184.67 195.00L185.67 195.32L186.67 195.64L187.67 195.95L188.67 196.26L189.67 196.56L190.67 196.85L191.68 197.13L192.68 197.41L193.68 197.67L194.68 197.92L195.68 198.16L196.68 198.39L197.68 198.62L198.69 198.84L199.69 199.06L200.69 199.27L201.69 199.47L202.69 199.67L203.69 199.87L204.69 200.06L205.70 200.24L206.70 200.42L207.70 200.60L208.70 200.78L209.70 200.95L210.70 201.12L211.70 201.28L212.71 201.44L213.71 201.60L214.71 201.76L215.71 201.91L216.71 202.05L217.71 202.20L218.71 202.34L219.72 202.48L220.72 202.62L221.72 202.76L222.72 202.90L223.72 203.03L224.72 203.16L225.72 203.30L226.73 203.43L227.73 203.56L228.73 203.70L229.73 203.83L230.73 203.96L231.73 204.09L232.73 204.21L233.74 204.34L234.74 204.46L235.74 204.57L236.74 204.68L237.74 204.79L238.74 204.89L239.74 204.98L240.75 205.07L241.75 205.16L242.75 205.26L243.75 205.35L244.75 205.44L245.75 205.52L246.75 205.59L247.75 205.64L248.76 205.68L249.76 205.70L250.76 205.69L251.76 205.66L252.76 205.60L253.76 205.52L254.76 205.42L255.77 205.32L256.77 205.20L257.77 205.08L258.77 204.95L259.77 204.83L260.77 204.70L261.77 204.55L262.78 204.38L263.78 204.20L264.78 204.01L265.78 203.81L266.78 203.61L267.78 203.41L268.78 203.22L269.79 203.04L270.79 202.87L271.79 202.70L272.79 202.52L273.79 202.36L274.79 202.19L275.79 202.03L276.80 201.87L277.80 201.71L278.80 201.57L279.80 201.43L280.80 201.30L281.80 201.17L282.80 201.05L283.81 200.93L284.81 200.82L285.81 200.72L286.81 200.61L287.81 200.51L288.81 200.41L289.81 200.31L290.82 200.21L291.82 200.11L292.82 200.01L293.82 199.91L294.82 199.80L295.82 199.69L296.82 199.58L297.83 199.47L298.83 199.35L299.83 199.22L300.83 199.09L301.83 198.96L302.83 198.82L303.83 198.69L304.84 198.54L305.84 198.40L306.84 198.25L307.84 198.10L308.84 197.94L309.84 197.78L310.84 197.62L311.85 197.45L312.85 197.28L313.85 197.11L314.85 196.93L315.85 196.74L316.85 196.55L317.85 196.35L318.86 196.15L319.86 195.94L320.86 195.72L321.86 195.49L322.86 195.25L323.86 195.00L324.86 194.74L325.87 194.46L326.87 194.16L327.87 193.84L328.87 193.50L329.87 193.15L330.87 192.79L331.87 192.43L332.88 192.06L333.88 191.70L334.88 191.34L335.88 190.98L336.88 190.61L337.88 190.24L338.88 189.88L339.89 189.54L340.89 189.22L341.89 188.93L342.89 188.65L343.89 188.37L344.89 188.11L345.89 187.84L346.90 187.58L347.90 187.31L348.90 187.02L349.90 186.73L350.90 186.42L351.90 186.10L352.90 185.76L353.91 185.42L354.91 185.07L355.91 184.73L356.91 184.39L357.91 184.06L358.91 183.73L359.91 183.43L360.92 183.13L361.92 182.83L362.92 182.53L363.92 182.23L364.92 181.94L365.92 181.66L366.92 181.40L367.93 181.15L368.93 180.92L369.93 180.71L370.93 180.53L371.93 180.36L372.93 180.20L373.93 180.05L374.94 179.91L375.94 179.77L376.94 179.64L377.94 179.50L378.94 179.36L379.94 179.21L380.94 179.06L381.95 178.91L382.95 178.76L383.95 178.61L384.95 178.46L385.95 178.31L386.95 178.15L387.95 177.98L388.96 177.80L389.96 177.61L390.96 177.40L391.96 177.19L392.96 176.96L393.96 176.72L394.96 176.46L395.97 176.19L396.97 175.92L397.97 175.62L398.97 175.32L399.97 175.01L400.97 174.66L401.97 174.28L402.98 173.86L403.98 173.43L404.98 173.00L405.98 172.59L406.98 172.21L407.98 171.84L408.98 171.48L409.99 171.13L410.99 170.79L411.99 170.48L412.99 170.20L413.99 169.94L414.99 169.70L415.99 169.46L417.00 169.25L418.00 169.04L419.00 168.86L420.00 168.70" fill="none" stroke="#b22222" stroke-width="1.6" stroke-linejoin="round" stroke-linecap="butt" stroke-dasharray="1.3 1.95" stroke-dashoffset="0"/>
<path d="M366.50 250.00L366.70 249.20L366.90 248.40L367.10 247.60L367.30 246.79L367.50 245.99L367.70 245.19L367.90 244.39L368.10 243.59L368.30 242.79L368.50 241.98L368.70 241.18L368.90 240.38L369.10 239.58L369.31 238.78L369.51 237.98L369.71 237.18L369.91 236.37L370.11 235.57L370.31 234.77L370.51 233.97L370.71 233.17L370.91 232.37L371.11 231.57L371.31 230.76L371.51 229.96L371.71 229.16L371.91 228.36L372.11 227.56L372.31 226.75L372.51 225.94L372.71 225.13L372.91 224.32L373.11 223.52L373.31 222.73L373.51 221.95L373.71 221.17L373.91 220.40L374.11 219.64L374.31 218.88L374.52 218.13L374.72 217.39L374.92 216.66L375.12 215.94L375.32 215.24L375.52 214.55L375.72 213.87L375.92 213.20L376.12 212.53L376.32 211.88L376.52 211.23L376.72 210.58L376.92 209.94L377.12 209.30L377.32 208.67L377.52 208.04L377.72 207.42L377.92 206.80L378.12 206.19L378.32 205.58L378.52 204.98L378.72 204.38L378.92 203.78L379.12 203.20L379.32 202.61L379.52 202.04L379.72 201.47L379.93 200.90L380.13 200.33L380.33 199.77L380.53 199.20L380.73 198.64L380.93 198.07L381.13 197.49L381.33 196.91L381.53 196.34L381.73 195.76L381.93 195.18L382.13 194.60L382.33 194.03L382.53 193.46L382.73 192.89L382.93 192.33L383.13 191.78L383.33 191.22L383.53 190.67L383.73 190.13L383.93 189.58L384.13 189.04L384.33 188.51L384.53 187.98L384.73 187.45L384.93 186.93L385.14 186.42L385.34 185.91L385.54 185.41L385.74 184.91L385.94 184.41L386.14 183.91L386.34 183.43L386.54 182.95L386.74 182.47L386.94 182.01L387.14 181.56L387.34 181.13L387.54 180.70L387.74 180.27L387.94 179.84L388.14 179.41L388.34 179.00L388.54 178.59L388.74 178.21L388.94 177.85L389.14 177.51L389.34 177.21L389.54 176.95L389.74 176.71L389.94 176.49L390.14 176.28L390.34 176.08L390.55 175.90L390.75 175.73L390.95 175.56L391.15 175.39L391.35 175.23L391.55 175.07L391.75 174.90L391.95 174.73L392.15 174.56L392.35 174.38L392.55 174.19L392.75 174.01L392.95 173.83L393.15 173.65L393.35 173.47L393.55 173.29L393.75 173.13L393.95 172.96L394.15 172.81L394.35 172.66L394.55 172.52L394.75 172.38L394.95 172.25L395.15 172.12L395.35 171.99L395.55 171.86L395.76 171.74L395.96 171.62L396.16 171.50L396.36 171.39L396.56 171.28L396.76 171.17L396.96 171.07L397.16 170.97L397.36 170.87L397.56 170.78L397.76 170.69L397.96 170.60L398.16 170.51L398.36 170.43L398.56 170.35L398.76 170.27L398.96 170.19L399.16 170.11L399.36 170.03L399.56 169.95L399.76 169.88L399.96 169.80L400.16 169.72L400.36 169.65L400.56 169.57L400.76 169.49L400.96 169.42L401.17 169.34L401.37 169.26L401.57 169.17L401.77 169.09L401.97 169.00L402.17 168.92L402.37 168.83L402.57 168.75L402.77 168.66L402.97 168.58L403.17 168.49L403.37 168.41L403.57 168.32L403.77 168.24L403.97 168.15L404.17 168.07L404.37 167.99L404.57 167.91L404.77 167.83L404.97 167.75L405.17 167.67L405.37 167.60L405.57 167.52L405.77 167.45L405.97 167.38L406.17 167.31L406.38 167.24L406.58 167.17L406.78 167.10L406.98 167.03L407.18 166.96L407.38 166.90L407.58 166.83L407.78 166.76L407.98 166.69L408.18 166.63L408.38 166.56L408.58 166.49L408.78 166.43L408.98 166.36L409.18 166.29L409.38 166.22L409.58 166.15L409.78 166.08L409.98 166.01L410.18 165.93L410.38 165.86L410.58 165.79L410.78 165.71L410.98 165.64L411.18 165.57L411.38 165.49L411.58 165.42L411.79 165.34L411.99 165.27L412.19 165.19L412.39 165.11L412.59 165.04L412.79 164.96L412.99 164.89L413.19 164.81L413.39 164.73L413.59 164.66L413.79 164.58L413.99 164.51L414.19 164.43L414.39 164.35L414.59 164.28L414.79 164.20L414.99 164.13L415.19 164.05L415.39 163.98L415.59 163.90L415.79 163.83L415.99 163.75L416.19 163.68L416.39 163.60L416.59 163.53L416.79 163.45L417.00 163.38L417.20 163.30L417.40 163.23L417.60 163.15L417.80 163.08L418.00 163.00L418.20 162.93L418.40 162.85L418.60 162.78L418.80 162.70L419.00 162.63L419.20 162.55L419.40 162.48L419.60 162.40" fill="none" stroke="#ff00ff" stroke-width="1.6" stroke-linejoin="round" stroke-linecap="butt" stroke-dasharray="7.4 1.8 1.2 1.8" stroke-dashoffset="-5.529"/>
</g>
<path d="M68.50 306.20L178.50 276.85" fill="none" stroke="#0000ff" stroke-width="1.6" stroke-linejoin="round" stroke-linecap="butt" stroke-dasharray="6.3 4.4" stroke-dashoffset="-9.729"/>
<path d="M178.50 276.85L419.50 276.70" fill="none" stroke="#0000ff" stroke-width="1.6" stroke-linejoin="round" stroke-linecap="butt" stroke-dasharray="6.1 4.2" stroke-dashoffset="-2.9"/>
<path d="M68.50 302.30L69.25 302.13L70.00 301.96L70.75 301.80L71.50 301.63L72.26 301.46L73.01 301.29L73.76 301.12L74.51 300.95L75.26 300.78L76.01 300.61L76.76 300.44L77.51 300.27L78.26 300.10L79.01 299.92L79.77 299.75L80.52 299.58L81.27 299.41L82.02 299.23L82.77 299.06L83.52 298.89L84.27 298.71L85.02 298.54L85.77 298.36L86.53 298.19L87.28 298.01L88.03 297.84L88.78 297.66L89.53 297.49L90.28 297.31L91.03 297.13L91.78 296.96L92.53 296.78L93.29 296.60L94.04 296.42L94.79 296.25L95.54 296.07L96.29 295.89L97.04 295.71L97.79 295.53L98.54 295.35L99.29 295.17L100.04 294.99L100.80 294.81L101.55 294.63L102.30 294.45L103.05 294.27L103.80 294.08L104.55 293.90L105.30 293.72L106.05 293.54L106.80 293.36L107.56 293.18L108.31 292.99L109.06 292.81L109.81 292.63L110.56 292.45L111.31 292.26L112.06 292.08L112.81 291.89L113.56 291.71L114.32 291.53L115.07 291.34L115.82 291.15L116.57 290.97L117.32 290.78L118.07 290.60L118.82 290.41L119.57 290.22L120.32 290.03L121.07 289.84L121.83 289.65L122.58 289.46L123.33 289.27L124.08 289.08L124.83 288.89L125.58 288.70L126.33 288.51L127.08 288.31L127.83 288.12L128.59 287.92L129.34 287.73L130.09 287.53L130.84 287.34L131.59 287.14L132.34 286.94L133.09 286.74L133.84 286.54L134.59 286.34L135.35 286.14L136.10 285.93L136.85 285.72L137.60 285.51L138.35 285.30L139.10 285.09L139.85 284.87L140.60 284.66L141.35 284.44L142.10 284.23L142.86 284.01L143.61 283.79L144.36 283.58L145.11 283.36L145.86 283.15L146.61 282.94L147.36 282.73L148.11 282.52L148.86 282.31L149.62 282.10L150.37 281.90L151.12 281.70L151.87 281.50L152.62 281.30L153.37 281.10L154.12 280.90L154.87 280.71L155.62 280.51L156.38 280.32L157.13 280.13L157.88 279.93L158.63 279.74L159.38 279.56L160.13 279.37L160.88 279.18L161.63 279.00L162.38 278.82L163.13 278.64L163.89 278.47L164.64 278.29L165.39 278.11L166.14 277.94L166.89 277.76L167.64 277.58L168.39 277.40L169.14 277.22L169.89 277.03L170.65 276.83L171.40 276.63L172.15 276.43L172.90 276.22L173.65 276.01L174.40 275.80L175.15 275.59L175.90 275.38L176.65 275.17L177.40 274.97L178.16 274.77L178.91 274.57L179.66 274.38L180.41 274.20L181.16 274.02L181.91 273.85L182.66 273.68L183.41 273.51L184.16 273.34L184.92 273.18L185.67 273.02L186.42 272.86L187.17 272.70L187.92 272.54L188.67 272.39L189.42 272.23L190.17 272.08L190.92 271.92L191.68 271.77L192.43 271.62L193.18 271.46L193.93 271.31L194.68 271.15L195.43 270.99L196.18 270.84L196.93 270.68L197.68 270.51L198.43 270.35L199.19 270.18L199.94 270.01L200.69 269.84L201.44 269.67L202.19 269.49L202.94 269.32L203.69 269.14L204.44 268.96L205.19 268.78L205.95 268.60L206.70 268.42L207.45 268.24L208.20 268.05L208.95 267.87L209.70 267.69L210.45 267.50L211.20 267.32L211.95 267.14L212.71 266.95L213.46 266.77L214.21 266.59L214.96 266.41L215.71 266.23L216.46 266.04L217.21 265.85L217.96 265.65L218.71 265.45L219.46 265.26L220.22 265.07L220.97 264.88L221.72 264.69L222.47 264.52L223.22 264.35L223.97 264.19L224.72 264.05L225.47 263.91L226.22 263.77L226.98 263.63L227.73 263.48L228.48 263.35L229.23 263.23L229.98 263.13L230.73 263.05L231.48 263.01L232.23 263.00L232.98 263.03L233.74 263.08L234.49 263.14L235.24 263.22L235.99 263.30L236.74 263.41L237.49 263.56L238.24 263.72L238.99 263.87L239.74 263.98L240.49 264.03L241.25 264.07L242.00 264.10L242.75 264.13L243.50 264.15L244.25 264.17L245.00 264.20L245.75 264.23L246.50 264.26L247.25 264.29L248.01 264.32L248.76 264.36L249.51 264.39L250.26 264.42L251.01 264.46L251.76 264.49L252.51 264.52L253.26 264.55L254.01 264.58L254.76 264.60L255.52 264.63L256.27 264.65L257.02 264.67L257.77 264.68L258.52 264.69L259.27 264.70L260.02 264.70L260.77 264.70L261.52 264.69L262.28 264.67L263.03 264.66L263.78 264.63L264.53 264.61L265.28 264.58L266.03 264.54L266.78 264.51L267.53 264.47L268.28 264.42L269.04 264.38L269.79 264.33L270.54 264.29L271.29 264.24L272.04 264.19L272.79 264.14L273.54 264.09L274.29 264.04L275.04 264.00L275.79 263.94L276.55 263.87L277.30 263.79L278.05 263.71L278.80 263.62L279.55 263.53L280.30 263.44L281.05 263.35L281.80 263.27L282.55 263.21L283.31 263.15L284.06 263.12L284.81 263.10L285.56 263.11L286.31 263.15L287.06 263.20L287.81 263.28L288.56 263.36L289.31 263.43L290.07 263.51L290.82 263.58L291.57 263.66L292.32 263.74L293.07 263.82L293.82 263.90L294.57 263.97L295.32 264.02L296.07 264.06L296.82 264.10L297.58 264.13L298.33 264.16L299.08 264.19L299.83 264.22L300.58 264.25L301.33 264.29L302.08 264.33L302.83 264.39L303.58 264.46L304.34 264.56L305.09 264.68L305.84 264.82L306.59 264.99L307.34 265.16L308.09 265.34L308.84 265.52L309.59 265.70L310.34 265.88L311.10 266.08L311.85 266.29L312.60 266.52L313.35 266.75L314.10 266.99L314.85 267.23L315.60 267.46L316.35 267.68L317.10 267.88L317.85 268.07L318.61 268.23L319.36 268.39L320.11 268.53L320.86 268.67L321.61 268.81L322.36 268.94L323.11 269.07L323.86 269.20L324.61 269.33L325.37 269.47L326.12 269.60L326.87 269.73L327.62 269.87L328.37 270.00L329.12 270.14L329.87 270.28L330.62 270.44L331.37 270.64L332.12 270.81L332.88 270.90L333.63 270.90L334.38 270.90L335.13 270.90L335.88 270.90L336.63 270.90L337.38 270.90L338.13 270.90L338.88 270.90L339.64 270.90L340.39 270.90L341.14 270.88L341.89 270.84L342.64 270.78L343.39 270.72L344.14 270.64L344.89 270.56L345.64 270.48L346.40 270.40L347.15 270.32L347.90 270.25L348.65 270.18L349.40 270.13L350.15 270.09L350.90 270.06L351.65 270.03L352.40 270.00L353.15 269.97L353.91 269.94L354.66 269.92L355.41 269.89L356.16 269.86L356.91 269.84L357.66 269.82L358.41 269.80L359.16 269.78L359.91 269.76L360.67 269.74L361.42 269.73L362.17 269.72L362.92 269.71L363.67 269.70L364.42 269.70L365.17 269.70L365.92 269.71L366.67 269.72L367.43 269.74L368.18 269.77L368.93 269.80L369.68 269.84L370.43 269.88L371.18 269.92L371.93 269.96L372.68 270.00L373.43 270.04L374.18 270.07L374.94 270.10L375.69 270.12L376.44 270.15L377.19 270.18L377.94 270.21L378.69 270.24L379.44 270.27L380.19 270.30L380.94 270.33L381.70 270.35L382.45 270.37L383.20 270.38L383.95 270.39L384.70 270.40L385.45 270.39L386.20 270.33L386.95 270.23L387.70 270.12L388.46 270.01L389.21 269.93L389.96 269.90L390.71 269.92L391.46 269.97L392.21 270.06L392.96 270.18L393.71 270.32L394.46 270.49L395.21 270.68L395.97 270.89L396.72 271.23L397.47 271.75L398.22 272.37L398.97 272.98L399.72 273.66L400.47 274.45L401.22 275.11L401.97 275.40L402.73 275.30L403.48 275.04L404.23 274.72L404.98 274.41L405.73 274.12L406.48 273.80L407.23 273.47L407.98 273.15L408.73 272.86L409.49 272.62L410.24 272.45L410.99 272.30L411.74 272.15L412.49 272.02L413.24 271.92L413.99 271.84L414.74 271.80L415.49 271.80L416.24 271.83L417.00 271.87L417.75 271.94L418.50 272.03L419.25 272.15L420.00 272.30" fill="none" stroke="#000" stroke-width="1.6" stroke-linejoin="round" stroke-linecap="butt"/>
<path d="M68.50 392.40L69.50 391.97L70.50 391.54L71.50 391.13L72.51 390.72L73.51 390.31L74.51 389.92L75.51 389.53L76.51 389.15L77.51 388.78L78.51 388.42L79.52 388.07L80.52 387.72L81.52 387.39L82.52 387.07L83.52 386.76L84.52 386.45L85.52 386.15L86.53 385.85L87.53 385.55L88.53 385.25L89.53 384.94L90.53 384.63L91.53 384.32L92.53 384.00L93.54 383.69L94.54 383.37L95.54 383.05L96.54 382.74L97.54 382.43L98.54 382.13L99.54 381.83L100.55 381.54L101.55 381.26L102.55 380.98L103.55 380.70L104.55 380.43L105.55 380.16L106.55 379.89L107.56 379.63L108.56 379.37L109.56 379.11L110.56 378.86L111.56 378.61L112.56 378.36L113.56 378.12L114.57 377.89L115.57 377.65L116.57 377.41L117.57 377.18L118.57 376.94L119.57 376.70L120.57 376.46L121.58 376.22L122.58 375.97L123.58 375.73L124.58 375.48L125.58 375.24L126.58 375.00L127.58 374.76L128.59 374.52L129.59 374.29L130.59 374.07L131.59 373.85L132.59 373.64L133.59 373.43L134.59 373.22L135.60 373.02L136.60 372.81L137.60 372.60L138.60 372.40L139.60 372.19L140.60 371.97L141.60 371.75L142.61 371.54L143.61 371.32L144.61 371.10L145.61 370.88L146.61 370.66L147.61 370.43L148.61 370.21L149.62 369.99L150.62 369.76L151.62 369.53L152.62 369.30L153.62 369.07L154.62 368.84L155.62 368.61L156.63 368.38L157.63 368.14L158.63 367.91L159.63 367.68L160.63 367.46L161.63 367.23L162.63 367.00L163.64 366.78L164.64 366.56L165.64 366.36L166.64 366.15L167.64 365.95L168.64 365.75L169.64 365.55L170.65 365.36L171.65 365.16L172.65 364.97L173.65 364.77L174.65 364.58L175.65 364.38L176.65 364.18L177.66 363.98L178.66 363.78L179.66 363.57L180.66 363.36L181.66 363.15L182.66 362.93L183.66 362.71L184.67 362.49L185.67 362.26L186.67 362.04L187.67 361.81L188.67 361.59L189.67 361.36L190.67 361.13L191.68 360.90L192.68 360.67L193.68 360.44L194.68 360.21L195.68 359.98L196.68 359.75L197.68 359.52L198.69 359.30L199.69 359.07L200.69 358.85L201.69 358.62L202.69 358.40L203.69 358.17L204.69 357.95L205.70 357.73L206.70 357.50L207.70 357.28L208.70 357.06L209.70 356.84L210.70 356.61L211.70 356.39L212.71 356.16L213.71 355.94L214.71 355.71L215.71 355.49L216.71 355.26L217.71 355.03L218.71 354.80L219.72 354.57L220.72 354.33L221.72 354.10L222.72 353.86L223.72 353.62L224.72 353.38L225.72 353.14L226.73 352.90L227.73 352.66L228.73 352.42L229.73 352.17L230.73 351.93L231.73 351.69L232.73 351.45L233.74 351.20L234.74 350.96L235.74 350.72L236.74 350.48L237.74 350.23L238.74 349.98L239.74 349.72L240.75 349.47L241.75 349.22L242.75 348.97L243.75 348.72L244.75 348.48L245.75 348.24L246.75 348.01L247.75 347.78L248.76 347.56L249.76 347.35L250.76 347.15L251.76 346.95L252.76 346.76L253.76 346.58L254.76 346.40L255.77 346.22L256.77 346.05L257.77 345.88L258.77 345.71L259.77 345.54L260.77 345.37L261.77 345.20L262.78 345.03L263.78 344.87L264.78 344.70L265.78 344.54L266.78 344.38L267.78 344.23L268.78 344.08L269.79 343.93L270.79 343.79L271.79 343.65L272.79 343.51L273.79 343.37L274.79 343.24L275.79 343.11L276.80 342.98L277.80 342.85L278.80 342.72L279.80 342.60L280.80 342.47L281.80 342.35L282.80 342.23L283.81 342.11L284.81 341.99L285.81 341.88L286.81 341.76L287.81 341.65L288.81 341.53L289.81 341.42L290.82 341.31L291.82 341.20L292.82 341.09L293.82 340.97L294.82 340.86L295.82 340.75L296.82 340.64L297.83 340.53L298.83 340.42L299.83 340.32L300.83 340.21L301.83 340.11L302.83 340.01L303.83 339.92L304.84 339.82L305.84 339.73L306.84 339.65L307.84 339.56L308.84 339.49L309.84 339.41L310.84 339.34L311.85 339.27L312.85 339.20L313.85 339.14L314.85 339.07L315.85 339.01L316.85 338.95L317.85 338.89L318.86 338.83L319.86 338.77L320.86 338.72L321.86 338.67L322.86 338.62L323.86 338.57L324.86 338.52L325.87 338.47L326.87 338.43L327.87 338.38L328.87 338.34L329.87 338.30L330.87 338.27L331.87 338.24L332.88 338.21L333.88 338.18L334.88 338.16L335.88 338.13L336.88 338.11L337.88 338.08L338.88 338.04L339.89 338.00L340.89 337.96L341.89 337.89L342.89 337.82L343.89 337.73L344.89 337.65L345.89 337.56L346.90 337.48L347.90 337.41L348.90 337.35L349.90 337.30L350.90 337.27L351.90 337.25L352.90 337.23L353.91 337.21L354.91 337.19L355.91 337.17L356.91 337.16L357.91 337.14L358.91 337.12L359.91 337.10L360.92 337.08L361.92 337.06L362.92 337.03L363.92 337.01L364.92 336.99L365.92 336.97L366.92 336.94L367.93 336.92L368.93 336.89L369.93 336.86L370.93 336.84L371.93 336.81L372.93 336.77L373.93 336.74L374.94 336.70L375.94 336.66L376.94 336.59L377.94 336.52L378.94 336.44L379.94 336.36L380.94 336.28L381.95 336.21L382.95 336.15L383.95 336.11L384.95 336.10L385.95 336.10L386.95 336.10L387.95 336.10L388.96 336.10L389.96 336.10L390.96 336.17L391.96 336.36L392.96 336.62L393.96 336.89L394.96 337.22L395.97 337.64L396.97 338.05L397.97 338.39L398.97 338.65L399.97 338.90L400.97 339.09L401.97 339.20L402.98 339.24L403.98 339.29L404.98 339.32L405.98 339.35L406.98 339.37L407.98 339.39L408.98 339.40L409.99 339.40L410.99 339.40L411.99 339.39L412.99 339.39L413.99 339.37L414.99 339.36L415.99 339.34L417.00 339.31L418.00 339.28L419.00 339.24L420.00 339.20" fill="none" stroke="#b22222" stroke-width="1.6" stroke-linejoin="round" stroke-linecap="butt" stroke-dasharray="1.3 1.95" stroke-dashoffset="0"/>
<path d="M68.50 344.40L69.50 344.40L70.50 344.40L71.50 344.40L72.51 344.40L73.51 344.39L74.51 344.39L75.51 344.39L76.51 344.38L77.51 344.38L78.51 344.37L79.52 344.37L80.52 344.36L81.52 344.36L82.52 344.35L83.52 344.34L84.52 344.34L85.52 344.33L86.53 344.32L87.53 344.31L88.53 344.31L89.53 344.30L90.53 344.29L91.53 344.28L92.53 344.27L93.54 344.26L94.54 344.25L95.54 344.24L96.54 344.23L97.54 344.22L98.54 344.21L99.54 344.20L100.55 344.19L101.55 344.18L102.55 344.17L103.55 344.15L104.55 344.14L105.55 344.12L106.55 344.10L107.56 344.08L108.56 344.06L109.56 344.04L110.56 344.02L111.56 343.99L112.56 343.97L113.56 343.94L114.57 343.92L115.57 343.89L116.57 343.86L117.57 343.84L118.57 343.81L119.57 343.78L120.57 343.75L121.58 343.73L122.58 343.70L123.58 343.67L124.58 343.64L125.58 343.62L126.58 343.59L127.58 343.56L128.59 343.54L129.59 343.51L130.59 343.49L131.59 343.46L132.59 343.44L133.59 343.41L134.59 343.39L135.60 343.36L136.60 343.34L137.60 343.31L138.60 343.29L139.60 343.26L140.60 343.24L141.60 343.21L142.61 343.19L143.61 343.16L144.61 343.14L145.61 343.11L146.61 343.09L147.61 343.06L148.61 343.03L149.62 343.01L150.62 342.98L151.62 342.95L152.62 342.92L153.62 342.89L154.62 342.87L155.62 342.84L156.63 342.81L157.63 342.78L158.63 342.74L159.63 342.71L160.63 342.68L161.63 342.65L162.63 342.61L163.64 342.58L164.64 342.54L165.64 342.50L166.64 342.47L167.64 342.43L168.64 342.39L169.64 342.35L170.65 342.31L171.65 342.27L172.65 342.23L173.65 342.18L174.65 342.14L175.65 342.10L176.65 342.05L177.66 342.01L178.66 341.96L179.66 341.92L180.66 341.87L181.66 341.82L182.66 341.77L183.66 341.73L184.67 341.68L185.67 341.63L186.67 341.57L187.67 341.52L188.67 341.47L189.67 341.42L190.67 341.36L191.68 341.30L192.68 341.25L193.68 341.19L194.68 341.13L195.68 341.07L196.68 341.01L197.68 340.95L198.69 340.88L199.69 340.82L200.69 340.75L201.69 340.69L202.69 340.62L203.69 340.55L204.69 340.48L205.70 340.41L206.70 340.34L207.70 340.27L208.70 340.19L209.70 340.11L210.70 340.03L211.70 339.95L212.71 339.87L213.71 339.79L214.71 339.70L215.71 339.61L216.71 339.52L217.71 339.42L218.71 339.33L219.72 339.23L220.72 339.13L221.72 339.01L222.72 338.90L223.72 338.77L224.72 338.64L225.72 338.51L226.73 338.37L227.73 338.23L228.73 338.09L229.73 337.94L230.73 337.80L231.73 337.65L232.73 337.51L233.74 337.37L234.74 337.24L235.74 337.10L236.74 336.97L237.74 336.84L238.74 336.70L239.74 336.57L240.75 336.44L241.75 336.31L242.75 336.17L243.75 336.04L244.75 335.91L245.75 335.77L246.75 335.64L247.75 335.50L248.76 335.37L249.76 335.23L250.76 335.09L251.76 334.95L252.76 334.81L253.76 334.66L254.76 334.52L255.77 334.37L256.77 334.23L257.77 334.09L258.77 333.96L259.77 333.83L260.77 333.71L261.77 333.59L262.78 333.48L263.78 333.37L264.78 333.26L265.78 333.15L266.78 333.05L267.78 332.94L268.78 332.83L269.79 332.72L270.79 332.61L271.79 332.50L272.79 332.38L273.79 332.26L274.79 332.14L275.79 332.03L276.80 331.91L277.80 331.79L278.80 331.67L279.80 331.55L280.80 331.43L281.80 331.31L282.80 331.19L283.81 331.07L284.81 330.96L285.81 330.85L286.81 330.74L287.81 330.63L288.81 330.52L289.81 330.42L290.82 330.32L291.82 330.22L292.82 330.12L293.82 330.02L294.82 329.92L295.82 329.82L296.82 329.72L297.83 329.62L298.83 329.53L299.83 329.43L300.83 329.34L301.83 329.25L302.83 329.16L303.83 329.08L304.84 328.99L305.84 328.91L306.84 328.83L307.84 328.75L308.84 328.68L309.84 328.61L310.84 328.54L311.85 328.47L312.85 328.41L313.85 328.34L314.85 328.27L315.85 328.21L316.85 328.14L317.85 328.08L318.86 328.02L319.86 327.96L320.86 327.90L321.86 327.84L322.86 327.79L323.86 327.74L324.86 327.69L325.87 327.65L326.87 327.61L327.87 327.57L328.87 327.53L329.87 327.50L330.87 327.48L331.87 327.46L332.88 327.44L333.88 327.42L334.88 327.41L335.88 327.39L336.88 327.37L337.88 327.35L338.88 327.33L339.89 327.30L340.89 327.26L341.89 327.21L342.89 327.14L343.89 327.06L344.89 326.97L345.89 326.89L346.90 326.80L347.90 326.72L348.90 326.66L349.90 326.60L350.90 326.56L351.90 326.52L352.90 326.49L353.91 326.45L354.91 326.42L355.91 326.39L356.91 326.36L357.91 326.33L358.91 326.30L359.91 326.28L360.92 326.25L361.92 326.23L362.92 326.21L363.92 326.20L364.92 326.18L365.92 326.17L366.92 326.15L367.93 326.14L368.93 326.13L369.93 326.12L370.93 326.11L371.93 326.10L372.93 326.09L373.93 326.08L374.94 326.07L375.94 326.06L376.94 326.04L377.94 326.03L378.94 326.02L379.94 326.00L380.94 325.98L381.95 325.95L382.95 325.92L383.95 325.88L384.95 325.85L385.95 325.83L386.95 325.81L387.95 325.80L388.96 325.85L389.96 325.97L390.96 326.16L391.96 326.37L392.96 326.59L393.96 326.85L394.96 327.19L395.97 327.55L396.97 327.90L397.97 328.19L398.97 328.45L399.97 328.72L400.97 328.92L401.97 329.00L402.98 329.00L403.98 329.00L404.98 329.00L405.98 329.00L406.98 329.00L407.98 329.00L408.98 328.96L409.99 328.85L410.99 328.70L411.99 328.56L412.99 328.45L413.99 328.40L414.99 328.40L415.99 328.40L417.00 328.40L418.00 328.40L419.00 328.40L420.00 328.40" fill="none" stroke="#000" stroke-width="1.6" stroke-linejoin="round" stroke-linecap="butt"/>
<rect x="68.5" y="24.5" width="351.0" height="371.1" fill="none" stroke="#000" stroke-width="1.0"/>
<line x1="68.5" y1="98.5" x2="419.5" y2="98.5" stroke="#000" stroke-width="1.0"/>
<line x1="68.5" y1="247.35" x2="419.5" y2="247.35" stroke="#000" stroke-width="1.0"/>
<line x1="68.5" y1="321.4" x2="419.5" y2="321.4" stroke="#000" stroke-width="1.0"/>
<path d="M82.05 24.50V29.10M106.83 24.50V29.10M124.41 24.50V29.10M138.05 24.50V29.10M149.19 24.50V29.10M158.61 24.50V29.10M166.76 24.50V29.10M173.96 24.50V29.10M180.40 24.50V33.80M222.75 24.50V29.10M247.53 24.50V29.10M265.11 24.50V29.10M278.75 24.50V29.10M289.89 24.50V29.10M299.31 24.50V29.10M307.46 24.50V29.10M314.66 24.50V29.10M321.10 24.50V33.80M363.45 24.50V29.10M388.23 24.50V29.10M405.81 24.50V29.10M82.05 93.90V103.10M106.83 93.90V103.10M124.41 93.90V103.10M138.05 93.90V103.10M149.19 93.90V103.10M158.61 93.90V103.10M166.76 93.90V103.10M173.96 93.90V103.10M180.40 89.20V107.80M222.75 93.90V103.10M247.53 93.90V103.10M265.11 93.90V103.10M278.75 93.90V103.10M289.89 93.90V103.10M299.31 93.90V103.10M307.46 93.90V103.10M314.66 93.90V103.10M321.10 89.20V107.80M363.45 93.90V103.10M388.23 93.90V103.10M405.81 93.90V103.10M82.05 242.75V251.95M106.83 242.75V251.95M124.41 242.75V251.95M138.05 242.75V251.95M149.19 242.75V251.95M158.61 242.75V251.95M166.76 242.75V251.95M173.96 242.75V251.95M180.40 238.05V256.65M222.75 242.75V251.95M247.53 242.75V251.95M265.11 242.75V251.95M278.75 242.75V251.95M289.89 242.75V251.95M299.31 242.75V251.95M307.46 242.75V251.95M314.66 242.75V251.95M321.10 238.05V256.65M363.45 242.75V251.95M388.23 242.75V251.95M405.81 242.75V251.95M82.05 316.80V326.00M106.83 316.80V326.00M124.41 316.80V326.00M138.05 316.80V326.00M149.19 316.80V326.00M158.61 316.80V326.00M166.76 316.80V326.00M173.96 316.80V326.00M180.40 312.10V330.70M222.75 316.80V326.00M247.53 316.80V326.00M265.11 316.80V326.00M278.75 316.80V326.00M289.89 316.80V326.00M299.31 316.80V326.00M307.46 316.80V326.00M314.66 316.80V326.00M321.10 312.10V330.70M363.45 316.80V326.00M388.23 316.80V326.00M405.81 316.80V326.00M82.05 391.00V395.60M106.83 391.00V395.60M124.41 391.00V395.60M138.05 391.00V395.60M149.19 391.00V395.60M158.61 391.00V395.60M166.76 391.00V395.60M173.96 391.00V395.60M180.40 386.30V395.60M222.75 391.00V395.60M247.53 391.00V395.60M265.11 391.00V395.60M278.75 391.00V395.60M289.89 391.00V395.60M299.31 391.00V395.60M307.46 391.00V395.60M314.66 391.00V395.60M321.10 386.30V395.60M363.45 391.00V395.60M388.23 391.00V395.60M405.81 391.00V395.60M68.50 87.36h4.6M419.50 87.36h-4.6M68.50 80.85h4.6M419.50 80.85h-4.6M68.50 76.22h4.6M419.50 76.22h-4.6M68.50 72.64h4.6M419.50 72.64h-4.6M68.50 69.71h4.6M419.50 69.71h-4.6M68.50 67.23h4.6M419.50 67.23h-4.6M68.50 65.09h4.6M419.50 65.09h-4.6M68.50 63.19h4.6M419.50 63.19h-4.6M68.50 61.50h9.3M419.50 61.50h-9.3M68.50 50.36h4.6M419.50 50.36h-4.6M68.50 43.85h4.6M419.50 43.85h-4.6M68.50 39.22h4.6M419.50 39.22h-4.6M68.50 35.64h4.6M419.50 35.64h-4.6M68.50 32.71h4.6M419.50 32.71h-4.6M68.50 30.23h4.6M419.50 30.23h-4.6M68.50 28.09h4.6M419.50 28.09h-4.6M68.50 26.19h4.6M419.50 26.19h-4.6M68.50 238.67h4.6M419.50 238.67h-4.6M68.50 224.14h4.6M419.50 224.14h-4.6M68.50 213.83h4.6M419.50 213.83h-4.6M68.50 205.83h4.6M419.50 205.83h-4.6M68.50 199.30h4.6M419.50 199.30h-4.6M68.50 193.78h4.6M419.50 193.78h-4.6M68.50 189.00h4.6M419.50 189.00h-4.6M68.50 184.77h4.6M419.50 184.77h-4.6M68.50 181.00h9.3M419.50 181.00h-9.3M68.50 156.17h4.6M419.50 156.17h-4.6M68.50 141.64h4.6M419.50 141.64h-4.6M68.50 131.33h4.6M419.50 131.33h-4.6M68.50 123.33h4.6M419.50 123.33h-4.6M68.50 116.80h4.6M419.50 116.80h-4.6M68.50 111.28h4.6M419.50 111.28h-4.6M68.50 106.50h4.6M419.50 106.50h-4.6M68.50 102.27h4.6M419.50 102.27h-4.6M68.50 315.73h4.6M419.50 315.73h-4.6M68.50 310.74h4.6M419.50 310.74h-4.6M68.50 306.42h4.6M419.50 306.42h-4.6M68.50 302.61h4.6M419.50 302.61h-4.6M68.50 299.20h9.3M419.50 299.20h-9.3M68.50 276.77h4.6M419.50 276.77h-4.6M68.50 263.65h4.6M419.50 263.65h-4.6M68.50 254.35h4.6M419.50 254.35h-4.6M68.50 393.89h4.6M419.50 393.89h-4.6M68.50 392.39h4.6M419.50 392.39h-4.6M68.50 391.08h4.6M419.50 391.08h-4.6M68.50 389.93h4.6M419.50 389.93h-4.6M68.50 388.90h9.3M419.50 388.90h-9.3M68.50 382.13h4.6M419.50 382.13h-4.6M68.50 378.16h4.6M419.50 378.16h-4.6M68.50 375.35h4.6M419.50 375.35h-4.6M68.50 373.17h4.6M419.50 373.17h-4.6M68.50 371.39h4.6M419.50 371.39h-4.6M68.50 369.89h4.6M419.50 369.89h-4.6M68.50 368.58h4.6M419.50 368.58h-4.6M68.50 367.43h4.6M419.50 367.43h-4.6M68.50 366.40h9.3M419.50 366.40h-9.3M68.50 359.63h4.6M419.50 359.63h-4.6M68.50 355.66h4.6M419.50 355.66h-4.6M68.50 352.85h4.6M419.50 352.85h-4.6M68.50 350.67h4.6M419.50 350.67h-4.6M68.50 348.89h4.6M419.50 348.89h-4.6M68.50 347.39h4.6M419.50 347.39h-4.6M68.50 346.08h4.6M419.50 346.08h-4.6M68.50 344.93h4.6M419.50 344.93h-4.6M68.50 343.90h9.3M419.50 343.90h-9.3M68.50 337.13h4.6M419.50 337.13h-4.6M68.50 333.16h4.6M419.50 333.16h-4.6M68.50 330.35h4.6M419.50 330.35h-4.6M68.50 328.17h4.6M419.50 328.17h-4.6M68.50 326.39h4.6M419.50 326.39h-4.6M68.50 324.89h4.6M419.50 324.89h-4.6M68.50 323.58h4.6M419.50 323.58h-4.6M68.50 322.43h4.6M419.50 322.43h-4.6" fill="none" stroke="#000" stroke-width="1.0"/>
<g style="opacity:0.999"><text transform="translate(59.90 29.50) scale(1.09 1)" text-anchor="end" font-size="15.6">100</text>
<text transform="translate(59.90 66.50) scale(1.09 1)" text-anchor="end" font-size="15.6">10</text>
<text transform="translate(59.90 103.50) scale(1.09 1)" text-anchor="end" font-size="15.6">1</text>
<text transform="translate(59.90 186.00) scale(1.0573000000000001 1)" text-anchor="end" font-size="15.6">0.1</text>
<text transform="translate(59.90 304.20) scale(1.0573000000000001 1)" text-anchor="end" font-size="15.6">0.1</text>
<text transform="translate(59.90 326.40) scale(1.09 1)" text-anchor="end" font-size="15.6">100</text>
<text transform="translate(59.90 348.90) scale(1.09 1)" text-anchor="end" font-size="15.6">10</text>
<text transform="translate(59.90 371.40) scale(1.09 1)" text-anchor="end" font-size="15.6">1</text>
<text transform="translate(59.90 393.90) scale(1.0573000000000001 1)" text-anchor="end" font-size="15.6">0.1</text>
<text transform="translate(181.30 413.80) scale(1.09 1)" text-anchor="middle" font-size="15.6">10</text>
<text transform="translate(322.00 413.80) scale(1.09 1)" text-anchor="middle" font-size="15.6">100</text>
<text transform="translate(21.90 85.00) rotate(-90) scale(0.63 1)" text-anchor="start" font-size="16.2" font-weight="bold">M</text>
<circle cx="9.1" cy="82.0" r="0.85"/><circle cx="9.1" cy="60.6" r="0.85"/>
<line x1="24.3" y1="73.9" x2="10.1" y2="65.8" stroke="#000" stroke-width="1.1"/>
<text transform="translate(21.90 63.80) rotate(-90) scale(0.63 1)" text-anchor="start" font-size="16.2" font-weight="bold">M</text>
<text transform="translate(26.00 52.70) rotate(-90) scale(1.04 1)" text-anchor="start" font-size="9.2" stroke="#000" stroke-width="0.3">Edd</text>
<text transform="translate(26.70 178.00) rotate(-90) scale(1.35 1)" text-anchor="start" font-size="14.3" font-style="italic">η</text>
<text transform="translate(27.20 298.90) rotate(-90) scale(0.8 1)" text-anchor="start" font-size="16.2">H</text>
<line x1="29.9" y1="287.7" x2="15.9" y2="280.1" stroke="#000" stroke-width="1.1"/>
<text transform="translate(27.20 277.70) rotate(-90) scale(0.74 1)" text-anchor="start" font-size="16.2">R</text>
<path d="M26.2 358.5H18.6M25.8 356.5V360.5M18.8 358.5C17 358.3 15.5 357 15.5 355.7C15.5 354.5 16.6 354.2 17.7 354.9M18.8 358.5C17 358.7 15.5 360 15.5 361.3C15.5 362.5 16.6 362.8 17.7 362.1" fill="none" stroke="#000" stroke-width="1.25" stroke-linecap="round"/>
<text transform="translate(225.00 432.60) scale(1.24 1)" text-anchor="start" font-size="15">r</text>
<text transform="translate(239.20 433.40)" text-anchor="start" font-size="16.2">[</text>
<text transform="translate(245.30 432.60) scale(1.24 1)" text-anchor="start" font-size="15">r</text>
<text transform="translate(252.60 436.80)" text-anchor="start" font-size="9.8" stroke="#000" stroke-width="0.25">g</text>
<text transform="translate(258.40 433.40)" text-anchor="start" font-size="16.2">]</text></g>
</svg>
</body></html>
